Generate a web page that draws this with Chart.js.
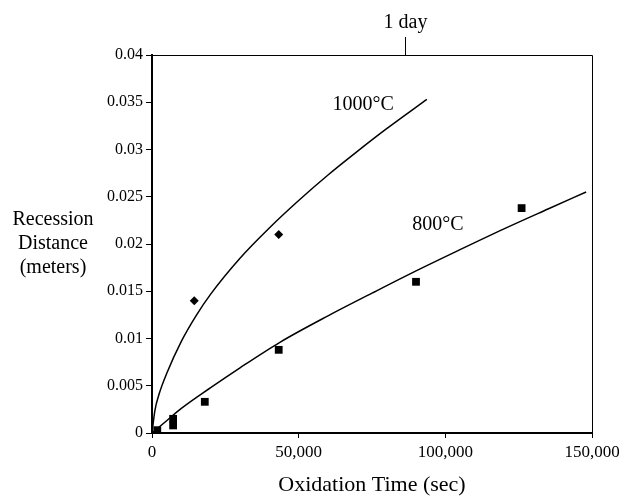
<!DOCTYPE html>
<html>
<head>
<meta charset="utf-8">
<script src="https://cdn.jsdelivr.net/npm/chart.js@4.4.1/dist/chart.umd.min.js"></script>
<style>
    html, body { margin: 0; padding: 0; background: #fff; }
</style>
</head>
<body>
<canvas id="chartRecession" width="619" height="498"></canvas>
<script>
// measured points
const time1000 = [14400, 43200];
const recession1000 = [0.014, 0.021];
const time800 = [1800, 7200, 7200, 18000, 43200, 90000, 126000];
const recession800 = [0.0003, 0.0015, 0.0008, 0.0033, 0.0088, 0.016, 0.0238];

// fitted curves
const fitTime1000 = [0, 1000, 2500, 5000, 10000, 15000, 20000, 30000, 40000, 50000, 60000, 70000, 80000, 93700];
const fitRecession1000 = [0, 0.0024, 0.0042, 0.0063, 0.0097, 0.0124, 0.0147, 0.0185, 0.0217, 0.0246, 0.0273, 0.0298, 0.0322, 0.0353];
const fitTime800 = [0, 5000, 10000, 20000, 30000, 43600, 60000, 75000, 89000, 105000, 120000, 135000, 148000];
const fitRecession800 = [0, 0.0013, 0.0026, 0.0048, 0.0069, 0.0096, 0.0124, 0.0148, 0.0170, 0.0194, 0.0216, 0.0237, 0.0255];

const xTickValues = [0, 50000, 100000, 150000];
const yTickValues = [0, 0.005, 0.01, 0.015, 0.02, 0.025, 0.03, 0.035, 0.04];
const yTitleLines = ['Recession', 'Distance', '(meters)'];
const curveLabels = ['1000\u00B0C', '800\u00B0C'];
const oneDaySec = 86400;
const oneDayLabel = '1 day';

const serif = '"Liberation Serif", "Times New Roman", serif';

function toPoints(xs, ys) {
    return xs.map(function (v, i) { return { x: v, y: ys[i] }; });
}

const annotate = {
    id: 'annotate',
    afterDraw: function (chart) {
        var ctx = chart.ctx;
        var area = chart.chartArea;
        var sx = chart.scales.x;
        var sy = chart.scales.y;

        ctx.save();
        // top and right frame
        ctx.strokeStyle = '#000';
        ctx.lineWidth = 1;
        ctx.beginPath();
        ctx.moveTo(area.left, area.top + 0.5);
        ctx.lineTo(area.right + 0.5, area.top + 0.5);
        ctx.lineTo(area.right + 0.5, area.bottom);
        ctx.stroke();

        // 1 day marker
        var dx = Math.round(sx.getPixelForValue(oneDaySec)) + 0.5;
        ctx.beginPath();
        ctx.moveTo(dx, area.top);
        ctx.lineTo(dx, area.top - 18);
        ctx.stroke();

        ctx.fillStyle = '#000';
        ctx.font = '20px ' + serif;
        ctx.textAlign = 'center';
        ctx.textBaseline = 'middle';
        ctx.fillText(oneDayLabel, dx, area.top - 32);

        ctx.fillText(curveLabels[0], sx.getPixelForValue(72000), sy.getPixelForValue(0.0347));
        ctx.fillText(curveLabels[1], sx.getPixelForValue(97500), sy.getPixelForValue(0.022));

        // y title, horizontal
        var cy = sy.getPixelForValue(0.02);
        yTitleLines.forEach(function (t, i) {
            ctx.fillText(t, 53, cy + (i - 1) * 24);
        });
        ctx.restore();
    }
};

var ctx = document.getElementById('chartRecession').getContext('2d');

var myChart = new Chart(ctx, {
    type: 'scatter',
    data: {
        datasets: [{
            label: '1000C fit',
            data: toPoints(fitTime1000, fitRecession1000),
            showLine: true,
            borderColor: '#000',
            borderWidth: 1.5,
            pointRadius: 0,
            cubicInterpolationMode: 'monotone'
        }, {
            label: '800C fit',
            data: toPoints(fitTime800, fitRecession800),
            showLine: true,
            borderColor: '#000',
            borderWidth: 1.5,
            pointRadius: 0,
            cubicInterpolationMode: 'monotone'
        }, {
            label: '1000C',
            data: toPoints(time1000, recession1000),
            pointStyle: 'rectRot',
            pointRadius: 4.5,
            backgroundColor: '#000',
            borderColor: '#000',
            borderWidth: 0
        }, {
            label: '800C',
            data: toPoints(time800, recession800),
            pointStyle: 'rect',
            pointRadius: 5.5,
            backgroundColor: '#000',
            borderColor: '#000',
            borderWidth: 0
        }]
    },
    options: {
        responsive: false,
        animation: false,
        layout: { padding: { top: 55, right: 27, left: 0, bottom: 0 } },
        plugins: {
            legend: { display: false },
            tooltip: { enabled: false }
        },
        scales: {
            x: {
                type: 'linear',
                min: 0,
                max: 150000,
                afterFit: function (scale) {
                    scale.height = 65;
                    scale.paddingRight = 0;
                    scale.paddingLeft = 0;
                },
                afterBuildTicks: function (scale) {
                    scale.ticks = xTickValues.map(function (v) { return { value: v }; });
                },
                grid: { display: true, drawOnChartArea: false, drawTicks: true, tickLength: 5, color: '#000' },
                border: { display: true, color: '#000', width: 2 },
                ticks: {
                    color: '#000',
                    padding: 4,
                    maxRotation: 0,
                    font: { family: serif, size: 17 },
                    callback: function (v) { return v.toLocaleString('en-US'); }
                },
                title: {
                    display: true,
                    text: 'Oxidation Time (sec)',
                    color: '#000',
                    font: { family: serif, size: 22 },
                    padding: { top: 0, bottom: 0 }
                }
            },
            y: {
                type: 'linear',
                min: 0,
                max: 0.04,
                afterFit: function (scale) { scale.width = 152; },
                afterBuildTicks: function (scale) {
                    scale.ticks = yTickValues.map(function (v) { return { value: v }; });
                },
                grid: { display: true, drawOnChartArea: false, drawTicks: true, tickLength: 6, color: '#000' },
                border: { display: true, color: '#000', width: 2 },
                ticks: {
                    color: '#000',
                    padding: 3,
                    font: { family: serif, size: 16 },
                    callback: function (v) { return String(Number(v.toFixed(3))); }
                }
            }
        }
    },
    plugins: [annotate]
});
</script>
</body>
</html>
